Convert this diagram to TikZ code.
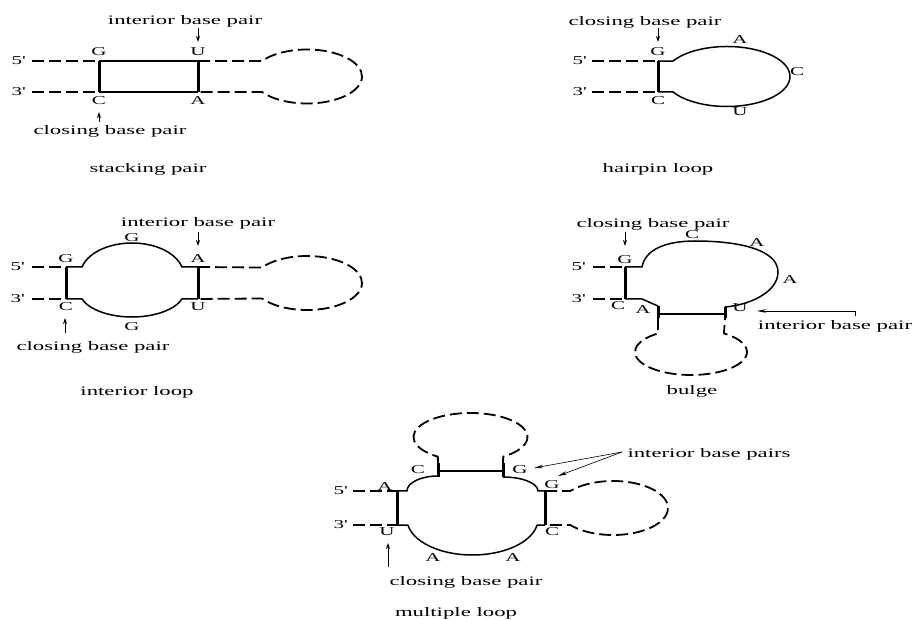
\documentclass[tikz,border=0pt]{standalone}
\usepackage{fontspec}
\setmainfont{Liberation Serif}[FakeStretch=1.75]
\usetikzlibrary{arrows.meta}
\tikzset{
  lbl/.style={font=\fontsize{13}{13}\selectfont, inner sep=0pt, anchor=base},
  nuc/.style={font=\fontsize{12}{12}\selectfont, inner sep=0pt, anchor=base},
  strand/.style={line width=1.5pt},
  pairbar/.style={line width=3pt},
  dsh/.style={line width=1.8pt, dash pattern=on 12pt off 5pt},
  arr/.style={line width=0.9pt, -{Stealth[length=6pt,width=4pt]}},
  larr/.style={line width=0.6pt, -{Stealth[length=9pt,width=3.5pt]}}
}
\newcommand{\pr}{\textquotesingle}
\begin{document}
\begin{tikzpicture}[x=1pt,y=-1pt]
\useasboundingbox (0,0) rectangle (914,620);

% ================= stacking pair =================
\node[lbl] (t1a) at (185,25) {interior base pair};
\coordinate (a1s) at (198,28); \coordinate (a1e) at (198,42);
\draw[arr] (a1s) -- (a1e);
\node[nuc] (p5a) at (18,65) {5\pr};
\node[nuc] (p3a) at (18,96) {3\pr};
\coordinate (d1a) at (32,61); \coordinate (d1b) at (32,92);
\coordinate (p1a) at (99,61); \coordinate (p1b) at (198,61);
\coordinate (p1c) at (99,92); \coordinate (p1d) at (198,92);
\coordinate (c1) at (307,76.5);
\path (c1) ++(145:55pt and 27pt) coordinate (l1a);
\draw[dsh] (d1a) -- (p1a);
\draw[dsh] (d1b) -- (p1c);
\draw[strand] (p1a) -- (p1b);
\draw[strand] (p1c) -- (p1d);
\draw[dsh] (p1b) -- (l1a) arc[start angle=145,end angle=-145,x radius=55pt,y radius=27pt] -- (p1d);
\draw[pairbar] (p1a) -- (p1c);
\draw[pairbar] (p1b) -- (p1d);
\node[nuc] (g1) at (99,56) {G};
\node[nuc] (u1) at (198,56) {U};
\node[nuc] (cc1) at (99,105) {C};
\node[nuc] (aa1) at (198,105) {A};
\coordinate (a2s) at (99,122); \coordinate (a2e) at (99,112);
\draw[arr] (a2s) -- (a2e);
\node[lbl] (t1b) at (110,135) {closing base pair};
\node[lbl] (t1c) at (148,173) {stacking pair};

% ================= hairpin loop =================
\node[lbl] (t2a) at (645,26) {closing base pair};
\coordinate (a3s) at (658,28); \coordinate (a3e) at (658,42);
\draw[arr] (a3s) -- (a3e);
\node[nuc] (p5b) at (579,65) {5\pr};
\node[nuc] (p3b) at (579,96) {3\pr};
\coordinate (d2a) at (592,61); \coordinate (d2b) at (592,92);
\coordinate (p2a) at (658,61); \coordinate (p2c) at (658,92);
\coordinate (c2) at (727,76.5);
\path (c2) ++(149:63pt and 30pt) coordinate (l2a);
\draw[dsh] (d2a) -- (p2a);
\draw[dsh] (d2b) -- (p2c);
\draw[strand] (p2a) -- (l2a) arc[start angle=149,end angle=-149,x radius=63pt,y radius=30pt] -- (p2c);
\draw[pairbar] (p2a) -- (p2c);
\node[nuc] (g2) at (658,56) {G};
\node[nuc] (cc2) at (658,105) {C};
\node[nuc] (h2a) at (740,44) {A};
\node[nuc] (h2c) at (797,76) {C};
\node[nuc] (h2u) at (740,116) {U};
\node[lbl] (t2c) at (658,173) {hairpin loop};

% ================= interior loop =================
\node[lbl] (t3a) at (198,227) {interior base pair};
\coordinate (a4s) at (198,232); \coordinate (a4e) at (198,246);
\draw[arr] (a4s) -- (a4e);
\node[nuc] (p5c) at (17,271) {5\pr};
\node[nuc] (p3c) at (17,303) {3\pr};
\coordinate (d3a) at (32,267); \coordinate (d3b) at (32,299);
\coordinate (p3a) at (66,267); \coordinate (p3b) at (198,267);
\coordinate (p3c) at (66,299); \coordinate (p3d) at (198,299);
\coordinate (ct3) at (132,275); \coordinate (cb3) at (132,291);
\path (ct3) ++(165.5:51.6pt and 32pt) coordinate (i3a);
\path (cb3) ++(197.9:52.5pt and 26pt) coordinate (i3b);
\coordinate (c3) at (307,283);
\path (c3) ++(145:55pt and 27pt) coordinate (l3a);
\draw[dsh] (d3a) -- (p3a);
\draw[dsh] (d3b) -- (p3c);
\draw[strand] (p3a) -- (i3a) arc[start angle=165.5,end angle=14.5,x radius=51.6pt,y radius=32pt] -- (p3b);
\draw[strand] (p3c) -- (i3b) arc[start angle=197.9,end angle=342.1,x radius=52.5pt,y radius=26pt] -- (p3d);
\draw[dsh] (p3b) -- (l3a) arc[start angle=145,end angle=-145,x radius=55pt,y radius=27pt] -- (p3d);
\draw[pairbar] (p3a) -- (p3c);
\draw[pairbar] (p3b) -- (p3d);
\node[nuc] (g3) at (66,263) {G};
\node[nuc] (aa3) at (198,263) {A};
\node[nuc] (cc3) at (66,311) {C};
\node[nuc] (u3) at (198,311) {U};
\node[nuc] (g3t) at (132,242) {G};
\node[nuc] (g3b) at (132,331) {G};
\coordinate (a5s) at (65,333); \coordinate (a5e) at (65,318);
\draw[arr] (a5s) -- (a5e);
\node[lbl] (t3b) at (93,351) {closing base pair};
\node[lbl] (t3c) at (137,396) {interior loop};

% ================= bulge =================
\node[lbl] (t4a) at (653,228) {closing base pair};
\coordinate (a6s) at (625,232); \coordinate (a6e) at (625,246);
\draw[arr] (a6s) -- (a6e);
\node[nuc] (p5d) at (578,271) {5\pr};
\node[nuc] (p3d) at (578,303) {3\pr};
\coordinate (d4a) at (593,267); \coordinate (d4b) at (593,299);
\coordinate (p4a) at (625,267); \coordinate (p4c) at (625,299);
\coordinate (q4a) at (642,267); \coordinate (q4c) at (642,299);
\coordinate (r4a) at (658,306); \coordinate (r4b) at (658,318);
\coordinate (s4a) at (725,307); \coordinate (s4b) at (725,318);
\coordinate (h4a) at (658,314); \coordinate (h4b) at (725,314);
\coordinate (c4) at (691,352);
\path (c4) ++(126:56pt and 23pt) coordinate (b4a);
\draw[dsh] (d4a) -- (p4a);
\draw[dsh] (d4b) -- (p4c);
\draw[strand] (p4a) -- (q4a) .. controls (645,250) and (665,241) .. (695,241)
  .. controls (740,241) and (778,250) .. (778,272)
  .. controls (778,292) and (750,305) .. (s4a);
\draw[strand] (p4c) -- (q4c) -- (r4a);
\draw[strand] (h4a) -- (h4b);
\draw[dsh] (r4b) -- (b4a) arc[start angle=126,end angle=414,x radius=56pt,y radius=23pt] -- (s4b);
\draw[pairbar] (p4a) -- (p4c);
\draw[pairbar] (r4a) -- (r4b);
\draw[pairbar] (s4a) -- (s4b);
\node[nuc] (g4) at (625,264) {G};
\node[nuc] (cc4) at (618,310) {C};
\node[nuc] (aa4) at (643,314) {A};
\node[nuc] (u4) at (740,312) {U};
\node[nuc] (c4t) at (692,239) {C};
\node[nuc] (a4t) at (757,247) {A};
\node[nuc] (a4r) at (790,284) {A};
\coordinate (e4a) at (855,316); \coordinate (e4b) at (855,311); \coordinate (e4c) at (757,311);
\draw[larr] (e4a) -- (e4b) -- (e4c);
\node[lbl] (t4b) at (835,330) {interior base pair};
\node[lbl] (t4c) at (692,395) {bulge};

% ================= multiple loop =================
\node[nuc] (p5e) at (340,495) {5\pr};
\node[nuc] (p3e) at (340,529) {3\pr};
\coordinate (d5a) at (353,491); \coordinate (d5b) at (353,525);
\coordinate (p5a) at (397,491); \coordinate (p5c) at (397,525);
\coordinate (q5a) at (407,491);
\coordinate (p5b) at (545,491); \coordinate (p5d) at (545,525);
\coordinate (m5a) at (438,463); \coordinate (m5b) at (438,477);
\coordinate (n5a) at (503,463); \coordinate (n5b) at (503,477);
\coordinate (h5a) at (438,471); \coordinate (h5b) at (503,471);
\coordinate (cb5) at (472.5,519);
\path (cb5) ++(190:65.5pt and 36pt) coordinate (b5a);
\coordinate (ct5) at (470.5,437);
\path (ct5) ++(235:57pt and 24pt) coordinate (tl5);
\coordinate (cr5) at (613,508);
\path (cr5) ++(141:55pt and 27pt) coordinate (r5a);
\draw[dsh] (d5a) -- (p5a);
\draw[dsh] (d5b) -- (p5c);
\draw[strand] (p5a) -- (q5a) arc[start angle=180,end angle=90,x radius=31pt,y radius=15pt];
\draw[strand] (n5b) arc[start angle=90,end angle=0,x radius=35pt,y radius=14pt] -- (p5b);
\draw[strand] (h5a) -- (h5b);
\draw[strand] (p5c) -- (b5a) arc[start angle=190,end angle=350,x radius=65.5pt,y radius=36pt] -- (p5d);
\draw[dsh] (m5a) -- (tl5) arc[start angle=235,end angle=-55,x radius=57pt,y radius=24pt] -- (n5a);
\draw[dsh] (p5b) -- (r5a) arc[start angle=141,end angle=-141,x radius=55pt,y radius=27pt] -- (p5d);
\draw[pairbar] (p5a) -- (p5c);
\draw[pairbar] (p5b) -- (p5d);
\draw[pairbar] (m5a) -- (m5b);
\draw[pairbar] (n5a) -- (n5b);
\node[nuc] (a5l) at (385,491) {A};
\node[nuc] (u5) at (387,536) {U};
\node[nuc] (c5t) at (418,474) {C};
\node[nuc] (g5t) at (520,474) {G};
\node[nuc] (g5r) at (552,489) {G};
\node[nuc] (c5r) at (552,536) {C};
\node[nuc] (a5b1) at (433,561) {A};
\node[nuc] (a5b2) at (513,561) {A};
\coordinate (ibp) at (622,452);
\coordinate (ibp1) at (534,468);
\coordinate (ibp2) at (558,476);
\draw[larr] (ibp) -- (ibp1);
\draw[larr] (ibp) -- (ibp2);
\node[lbl] (t5x) at (709,457) {interior base pairs};
\coordinate (a7s) at (388,567); \coordinate (a7e) at (388,543);
\draw[arr] (a7s) -- (a7e);
\node[lbl] (t5b) at (466,585) {closing base pair};
\node[lbl] (t5c) at (456,616) {multiple loop};
\end{tikzpicture}
\end{document}
